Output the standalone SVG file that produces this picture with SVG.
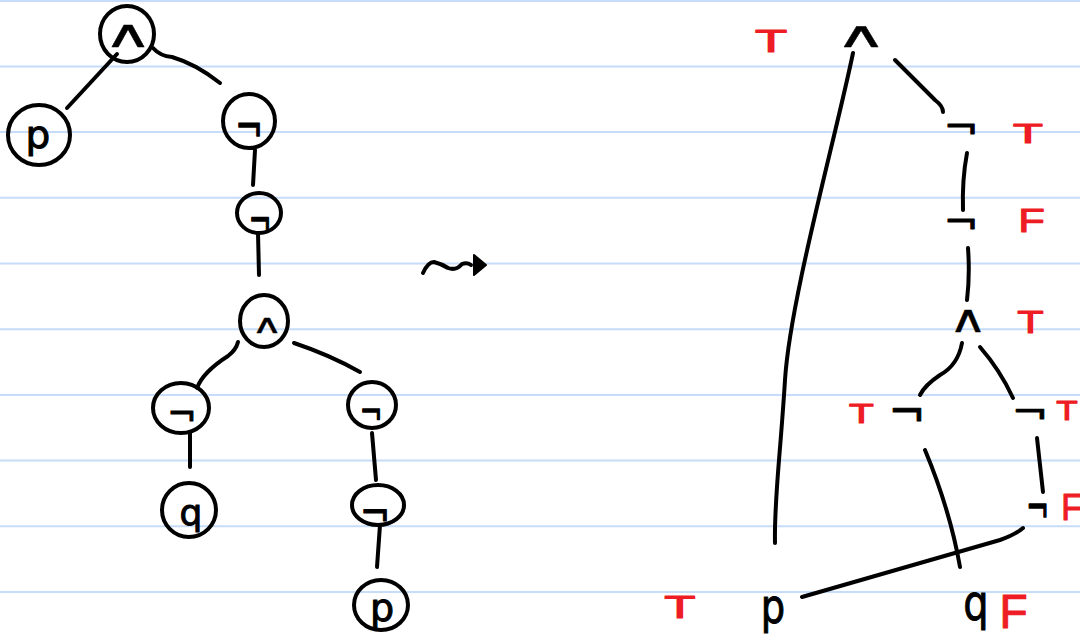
<svg xmlns="http://www.w3.org/2000/svg" width="1080" height="639" viewBox="0 0 1080 639">
<defs>
<style>
.rule{stroke:#c6dcf8;stroke-width:2}
.ink{fill:none;stroke:#000;stroke-width:4;stroke-linecap:round;stroke-linejoin:round}
.sym{font-family:"DejaVu Sans",sans-serif;fill:#000;stroke:#000;stroke-width:1;stroke-linejoin:round;text-anchor:middle}
.and{stroke-width:0.3}
.red{font-family:"Liberation Sans",sans-serif;fill:#ee1c24;stroke:#ee1c24;stroke-width:1.1;stroke-linejoin:round;text-anchor:middle}
</style>
</defs>
<rect width="1080" height="639" fill="#fff"/>
<g id="ruling">
<line class="rule" x1="0" y1="1" x2="1080" y2="1"/>
<line class="rule" x1="0" y1="66.4" x2="1080" y2="66.4"/>
<line class="rule" x1="0" y1="132.1" x2="1080" y2="132.1"/>
<line class="rule" x1="0" y1="197.8" x2="1080" y2="197.8"/>
<line class="rule" x1="0" y1="263.5" x2="1080" y2="263.5"/>
<line class="rule" x1="0" y1="329.2" x2="1080" y2="329.2"/>
<line class="rule" x1="0" y1="394.9" x2="1080" y2="394.9"/>
<line class="rule" x1="0" y1="460.6" x2="1080" y2="460.6"/>
<line class="rule" x1="0" y1="526.3" x2="1080" y2="526.3"/>
<line class="rule" x1="0" y1="592" x2="1080" y2="592"/>
</g>
<g id="left-connectors" class="ink">
<path d="M117,54 L67,108"/>
<path d="M153,48 Q160,56 172,57 Q196,64 220,83"/>
<path d="M255,150 L253,185"/>
<path d="M258,233 L259,275"/>
<path d="M238,342 Q236,350 228,356 Q203,372 197,388"/>
<path d="M294,343 Q330,355 360,372"/>
<path d="M190,432 L190,467"/>
<path d="M372,433 L376,480"/>
<path d="M380,525 L377,567"/>
</g>
<g id="l-and1"><ellipse class="ink" cx="127" cy="34" rx="27" ry="28"/><text class="sym and" font-size="38" transform="translate(128,47) scale(1.8,1)">∧</text></g>
<g id="l-p1"><ellipse class="ink" cx="39" cy="135" rx="31" ry="30"/><text class="sym" font-size="39" x="38" y="148">p</text></g>
<g id="l-not1"><ellipse class="ink" cx="249" cy="121" rx="26" ry="27"/><text class="sym" font-size="33" transform="translate(249,142) scale(1,1.33)">¬</text></g>
<g id="l-not2"><ellipse class="ink" cx="259" cy="213" rx="22" ry="20"/><text class="sym" font-size="27" transform="translate(260,235) scale(1,1.6)">¬</text></g>
<g id="l-and2"><ellipse class="ink" cx="264" cy="321" rx="24" ry="26"/><text class="sym and" font-size="26" transform="translate(267,333) scale(1.66,1)">∧</text></g>
<g id="l-not3"><ellipse class="ink" cx="181" cy="408" rx="28" ry="25"/><text class="sym" font-size="35" x="182" y="426">¬</text></g>
<g id="l-not4"><ellipse class="ink" cx="372" cy="405" rx="24" ry="23"/><text class="sym" font-size="27" transform="translate(371,424.5) scale(1,1.4)">¬</text></g>
<g id="l-q"><ellipse class="ink" cx="189" cy="510" rx="27" ry="27"/><text class="sym" font-size="36" x="191" y="525">q</text></g>
<g id="l-not5"><ellipse class="ink" cx="378" cy="505" rx="26" ry="20"/><text class="sym" font-size="36" transform="translate(375,527) scale(1,1.15)">¬</text></g>
<g id="l-p2"><ellipse class="ink" cx="381" cy="605" rx="27" ry="25"/><text class="sym" font-size="38" x="382" y="621">p</text></g>
<g id="squiggle-arrow">
<path class="ink" d="M423,273 Q428,262 434,262 Q442,264 448,268 Q456,271 462,264 Q467,262 471,265"/>
<path d="M474,255 L486,265 L474,275 Z" fill="#000" stroke="#000" stroke-width="2" stroke-linejoin="round"/>
</g>
<g id="right-connectors" class="ink">
<path d="M853,53 C835,140 790,300 785,380 S774,500 775,543"/>
<path d="M895,60 Q915,80 935,100 Q943,106 943,112"/>
<path d="M967,153 Q962,180 963,210"/>
<path d="M968,248 Q970,275 967,300"/>
<path d="M962,343 Q958,365 940,375 Q925,385 920,395"/>
<path d="M980,347 Q1000,370 1013,398"/>
<path d="M925,450 Q950,510 960,567"/>
<path d="M1037,438 L1043,492"/>
<path d="M1023,528 Q1015,535 1000,540 L802,597"/>
</g>
<g id="r-and1"><text class="sym and" font-size="36" transform="translate(861,47) scale(2,1)">∧</text></g>
<g id="r-not1"><text class="sym" font-size="42" transform="translate(961,139) scale(1,0.83)">¬</text></g>
<g id="r-not2"><text class="sym" font-size="42" transform="translate(961,234) scale(1,0.83)">¬</text></g>
<g id="r-and2"><text class="sym and" font-size="38" transform="translate(968,332) scale(1.4,1)">∧</text></g>
<g id="r-not3"><text class="sym" font-size="44" x="907" y="427">¬</text></g>
<g id="r-not4"><text class="sym" font-size="44" transform="translate(1030,424) scale(1,0.8)">¬</text></g>
<g id="r-not5"><text class="sym" font-size="27" transform="translate(1037.5,523.6) scale(1,1.74)">¬</text></g>
<g id="r-p"><text class="sym" font-size="48" transform="translate(773,623) scale(0.8,1)">p</text></g>
<g id="r-q"><text class="sym" font-size="50" transform="translate(976,620) scale(0.8,1)">q</text></g>
<g id="truth-values">
<text class="red" font-size="31" transform="translate(771,52) scale(1.7,1)">T</text>
<text class="red" font-size="28" transform="translate(1028,143) scale(1.75,1)">T</text>
<text class="red" font-size="33.5" transform="translate(1031.5,232) scale(1.3,1)">F</text>
<text class="red" font-size="32" transform="translate(1030.5,333) scale(1.35,1)">T</text>
<text class="red" font-size="28" transform="translate(861.5,423) scale(1.45,1)">T</text>
<text class="red" font-size="28" transform="translate(1067,420) scale(1.25,1)">T</text>
<text class="red" font-size="37.7" transform="translate(1071.5,520) scale(0.9,1)">F</text>
<text class="red" font-size="32" transform="translate(680,618) scale(1.6,1)">T</text>
<text class="red" font-size="49" transform="translate(1013.5,628) scale(0.94,1)">F</text>
</g>
</svg>
